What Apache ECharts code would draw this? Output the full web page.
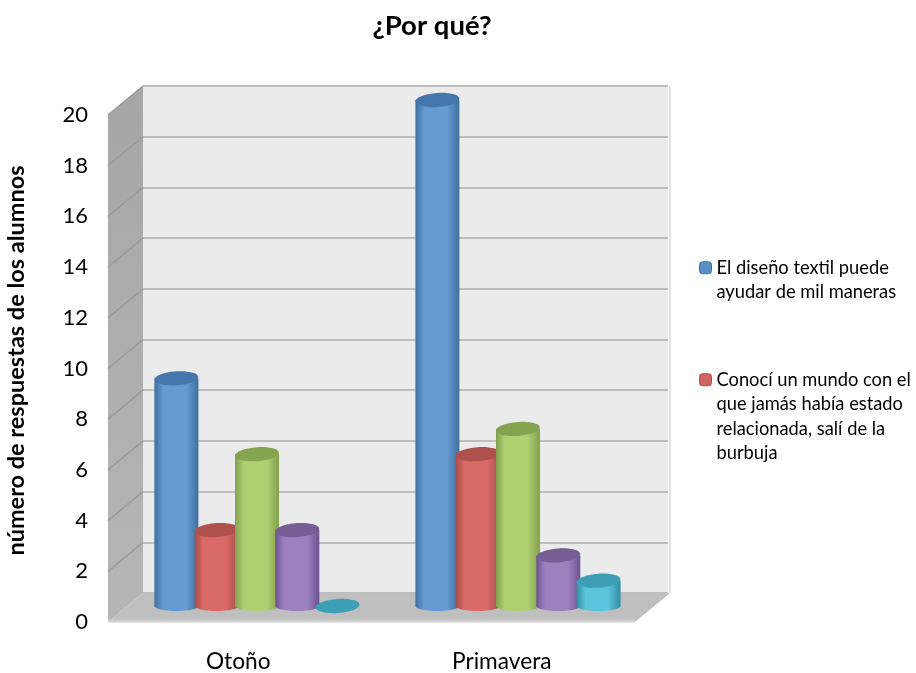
<!DOCTYPE html>
<html><head><meta charset="utf-8">
<style>html,body{margin:0;padding:0;background:#fff}#c{width:916px;height:673px;filter:blur(0.5px)}</style>
<script src="https://cdn.jsdelivr.net/npm/echarts@6/dist/echarts.min.js"></script>
</head><body><div id="c"></div>
<script>
const titleText = '¿Por qué?';
const yAxisTitle = 'número de respuestas de los alumnos';
const categories = ['Otoño', 'Primavera'];
const yMax = 20;
const yStep = 2;
const seriesNames = [
  'El diseño textil puede\nayudar de mil maneras',
  'Conocí un mundo con el\nque jamás había estado\nrelacionada, salí de la\nburbuja',
  'Serie 3',
  'Serie 4',
  'Serie 5'
];
const values1 = [9, 20];
const values2 = [3, 6];
const values3 = [6, 7];
const values4 = [3, 2];
const values5 = [0, 1];
const allValues = [values1, values2, values3, values4, values5];
const tickValues = [0, 2, 4, 6, 8, 10, 12, 14, 16, 18, 20];
const palette = [
  {edge: '#3f6f9f', mid: '#659bd2', top: '#4577ad', border: '#3f6e9f', icon: '#5a8fc8'},
  {edge: '#a64d4a', mid: '#d96a65', top: '#ae504c', border: '#a0504d', icon: '#cf6360'},
  {edge: '#84a04f', mid: '#b0cf70', top: '#86a34f', border: '#84a04f', icon: '#a5c465'},
  {edge: '#6c5490', mid: '#9d81bf', top: '#765e95', border: '#6c5490', icon: '#8d73ad'},
  {edge: '#2e8ea5', mid: '#5cc4dc', top: '#3d9fb5', border: '#2e8ea5', icon: '#4db3cc'}
];
const FONT = 'Lato';
const depthX = 35, depthY = -29;
const pitch = 40.3, rx = 22, ry = 7, tilt = 0.07;

function cylinder(k) {
  return function (params, api) {
    const c = palette[k];
    const cat = api.value(0), val = api.value(1);
    const top = api.coord([cat, val]);
    const base = api.coord([cat, 0]);
    const cx = base[0] + (k - 2) * pitch;
    const topEl = {
      type: 'ellipse',
      shape: {cx: cx, cy: top[1], rx: rx, ry: ry},
      originX: cx, originY: top[1], rotation: tilt,
      style: {fill: c.top}
    };
    if (val === 0) return {type: 'group', children: [topEl]};
    const grad = {type: 'linear', x: 0, y: 0, x2: 1, y2: 0, colorStops: [
      {offset: 0, color: c.edge}, {offset: 0.2, color: c.mid},
      {offset: 0.72, color: c.mid}, {offset: 1, color: c.edge}
    ]};
    return {type: 'group', children: [
      {type: 'ellipse', shape: {cx: cx, cy: base[1], rx: rx, ry: ry - 2}, style: {fill: grad}},
      {type: 'rect', shape: {x: cx - rx, y: top[1], width: rx * 2, height: base[1] - top[1]}, style: {fill: grad}},
      topEl
    ]};
  };
}

function wallsItem(params, api) {
  const s = params.coordSys;
  const L = s.x, R = s.x + s.width, T = s.y, B = s.y + s.height;
  const side = [[L, B], [L, T], [L + depthX, T + depthY], [L + depthX, B + depthY]];
  const floor = [[L, B], [L + depthX, B + depthY], [R + depthX, B + depthY], [R, B]];
  const kids = [
    {type: 'polygon', shape: {points: side}, style: {fill: {type: 'linear', x: 0, y: 0, x2: 0, y2: 1, colorStops: [{offset: 0, color: '#a6a6a6'}, {offset: 1, color: '#b6b6b6'}]}}},
    {type: 'polygon', shape: {points: floor}, style: {fill: '#bfbfbf'}},
    {type: 'line', shape: {x1: L, y1: B - 1, x2: R, y2: B - 1}, style: {stroke: '#cfcfcf', lineWidth: 3}},
    {type: 'line', shape: {x1: R + depthX, y1: T + depthY, x2: R + depthX, y2: B + depthY}, style: {stroke: '#c6c6c6', lineWidth: 1}}
  ];
  tickValues.forEach(function (v) {
    if (v === 0) return;
    const p = api.coord([0, v]);
    kids.push({type: 'line', shape: {x1: L, y1: p[1], x2: L + depthX, y2: p[1] + depthY}, style: {stroke: '#9b9b9b', lineWidth: 1.5}});
  });
  return {type: 'group', children: kids};
}

const hiddenAxis = {axisLine: {show: false}, axisTick: {show: false}, axisLabel: {show: false}, splitLine: {show: false}};
const legendLines = function (name) {
  const n = name.split('\n').length;
  return '\n'.repeat(n - 1) + name;
};
const legendBase = {
  orient: 'vertical', left: 699, itemWidth: 12, itemHeight: 12, itemGap: 0, padding: 0,
  selectedMode: false, icon: 'roundRect', formatter: legendLines,
  textStyle: {fontFamily: FONT, fontSize: 18.3, lineHeight: 24.5, color: '#000'}
};
function legendItem(k) {
  return {name: seriesNames[k], itemStyle: {color: palette[k].icon, borderColor: palette[k].border, borderWidth: 1}};
}

const series = [{
  type: 'custom', xAxisIndex: 1, yAxisIndex: 1, z: 1, silent: true,
  data: [[0, 0]], encode: {x: 0, y: 1}, renderItem: wallsItem, clip: false
}];
allValues.forEach(function (vals, k) {
  series.push({
    name: seriesNames[k], type: 'custom', xAxisIndex: 2, yAxisIndex: 2, z: 3 + k,
    itemStyle: {color: palette[k].icon}, clip: false,
    encode: {x: 0, y: 1},
    data: vals.map(function (v, i) { return [i, v]; }),
    renderItem: cylinder(k)
  });
});

const chart = echarts.init(document.getElementById('c'), null, {renderer: 'canvas', width: 916, height: 673});
chart.setOption({
  animation: false,
  backgroundColor: '#fff',
  title: {text: titleText, left: 427, top: 7, textAlign: 'center',
    textStyle: {fontFamily: FONT, fontWeight: 'bold', fontSize: 27.5, color: '#000'}},
  legend: [
    Object.assign({}, legendBase, {top: 231, data: [legendItem(0)]}),
    Object.assign({}, legendBase, {top: 294, data: [legendItem(1)]})
  ],
  grid: [
    {left: 143, top: 86, width: 525, height: 507, show: true, backgroundColor: '#ebebeb', borderWidth: 0, outerBoundsMode: 'none'},
    {left: 108, top: 115, width: 527, height: 507, outerBoundsMode: 'none'},
    {left: 126.5, top: 100, width: 522, height: 506, outerBoundsMode: 'none'}
  ],
  xAxis: [
    Object.assign({type: 'category', gridIndex: 0, data: categories}, hiddenAxis),
    {type: 'category', gridIndex: 1, data: categories,
      axisLine: {show: false}, axisTick: {show: false},
      axisLabel: {fontFamily: FONT, fontSize: 22.7, color: '#000', margin: 28, padding: [0, 3, 0, 0]}},
    Object.assign({type: 'category', gridIndex: 2, data: categories}, hiddenAxis)
  ],
  yAxis: [
    {type: 'value', gridIndex: 0, min: 0, max: yMax, interval: yStep,
      axisLine: {show: false}, axisTick: {show: false}, axisLabel: {show: false},
      splitLine: {show: true, lineStyle: {color: '#bdbdbd', width: 2}}},
    {type: 'value', gridIndex: 1, min: 0, max: yMax, interval: yStep,
      axisLine: {show: false}, axisTick: {show: false}, splitLine: {show: false},
      axisLabel: {fontFamily: FONT, fontSize: 22, color: '#000', margin: 20},
      name: yAxisTitle, nameLocation: 'middle', nameRotate: 90, nameGap: 80,
      nameTextStyle: {fontFamily: FONT, fontWeight: 'bold', fontSize: 23.5, color: '#000', padding: [0, 0, 0, 16]}},
    Object.assign({type: 'value', gridIndex: 2, min: 0, max: yMax, interval: yStep}, hiddenAxis)
  ],
  series: series
});
</script></body></html>
